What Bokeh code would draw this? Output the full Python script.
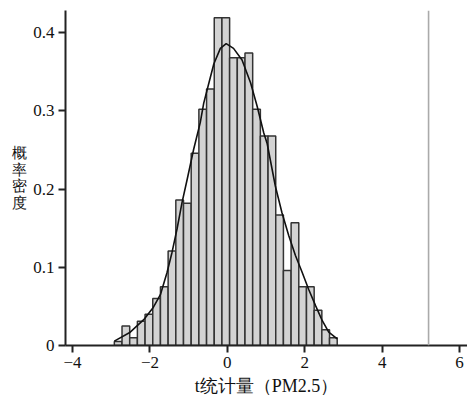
from bokeh.plotting import figure
from bokeh.models import Range1d, FixedTicker, Span, ColumnDataSource
from bokeh.embed import file_html
from bokeh.resources import INLINE

# histogram densities (29 bins)
density = [0.005, 0.025, 0.010, 0.031, 0.040, 0.060, 0.075, 0.121, 0.186, 0.182,
           0.246, 0.302, 0.328, 0.419, 0.419, 0.368, 0.368, 0.374, 0.302, 0.268,
           0.268, 0.167, 0.096, 0.157, 0.075, 0.075, 0.045, 0.020, 0.010]
bin_start = -2.92
bin_width = 0.1986

# density curve
curve_x = [-2.92, -2.51, -2.16, -1.91, -1.73, -1.56, -1.43, -1.30, -1.17, -1.04,
           -0.87, -0.70, -0.61, -0.48, -0.35, -0.18, -0.03, 0.16, 0.38, 0.60,
           0.77, 0.94, 1.03, 1.24, 1.41, 1.59, 1.76, 1.93, 2.10, 2.28,
           2.45, 2.62, 2.84]
curve_y = [0.0056, 0.017, 0.033, 0.049, 0.065, 0.093, 0.119, 0.149, 0.183, 0.212,
           0.251, 0.285, 0.310, 0.335, 0.360, 0.380, 0.386, 0.380, 0.365, 0.336,
           0.306, 0.272, 0.258, 0.204, 0.170, 0.140, 0.115, 0.094, 0.072, 0.051,
           0.032, 0.017, 0.0085]

critical_value = 5.2

x_ticks = [-4, -2, 0, 2, 4, 6]
x_tick_labels = ["\u22124", "\u22122", "0", "2", "4", "6"]
y_ticks = [0, 0.1, 0.2, 0.3, 0.4]
y_tick_labels = ["0", "0.1", "0.2", "0.3", "0.4"]

x_label = "t统计量（PM2.5）"
y_label = "概\n率\n密\n度"

lefts = [bin_start + i * bin_width for i in range(len(density))]
rights = [l + bin_width for l in lefts]
src = ColumnDataSource(dict(left=lefts, right=rights, top=density, bottom=[0] * len(density)))

SERIF = "Liberation Serif"

p = figure(width=467, height=398, output_backend="svg", toolbar_location=None,
           x_range=Range1d(-4.182, 6.206), y_range=Range1d(0, 0.4284),
           min_border_left=65, min_border_right=0, min_border_top=10, min_border_bottom=51)

p.quad(left="left", right="right", top="top", bottom="bottom", source=src,
       fill_color="#d3d3d3", line_color="#333333", line_width=1.5)
p.line(curve_x, curve_y, line_color="#111111", line_width=1.6)

p.add_layout(Span(location=critical_value, dimension="height",
                  line_color="#aaaaaa", line_width=1.6))

p.xgrid.visible = False
p.ygrid.visible = False
p.outline_line_color = None
p.background_fill_color = "white"
p.border_fill_color = "white"

p.xaxis.ticker = FixedTicker(ticks=x_ticks)
p.yaxis.ticker = FixedTicker(ticks=y_ticks)
p.xaxis.major_label_overrides = {t: l for t, l in zip(x_ticks, x_tick_labels)}
p.yaxis.major_label_overrides = {t: l for t, l in zip(y_ticks, y_tick_labels)}

for ax in (p.xaxis[0], p.yaxis[0]):
    ax.axis_line_width = 2
    ax.axis_line_color = "#222222"
    ax.major_tick_line_width = 2
    ax.major_tick_line_color = "#222222"
    ax.major_tick_out = 7
    ax.major_tick_in = 0
    ax.minor_tick_out = 0
    ax.minor_tick_in = 0
    ax.major_label_text_font = SERIF
    ax.major_label_text_font_size = "17px"
    ax.major_label_text_color = "#111111"
    ax.major_label_standoff = 4
    ax.axis_label_text_font = SERIF
    ax.axis_label_text_font_style = "normal"
    ax.axis_label_text_color = "#111111"

p.xaxis.axis_label = x_label
p.xaxis.axis_label_text_font_size = "18px"
p.xaxis.axis_label_standoff = 5

p.yaxis.axis_label = y_label
p.yaxis.axis_label_orientation = "horizontal"
p.yaxis.axis_label_text_font_size = "15px"
p.yaxis.axis_label_text_line_height = 1.05
p.yaxis.axis_label_standoff = 3

open("out.html", "w").write(file_html(p, INLINE))
